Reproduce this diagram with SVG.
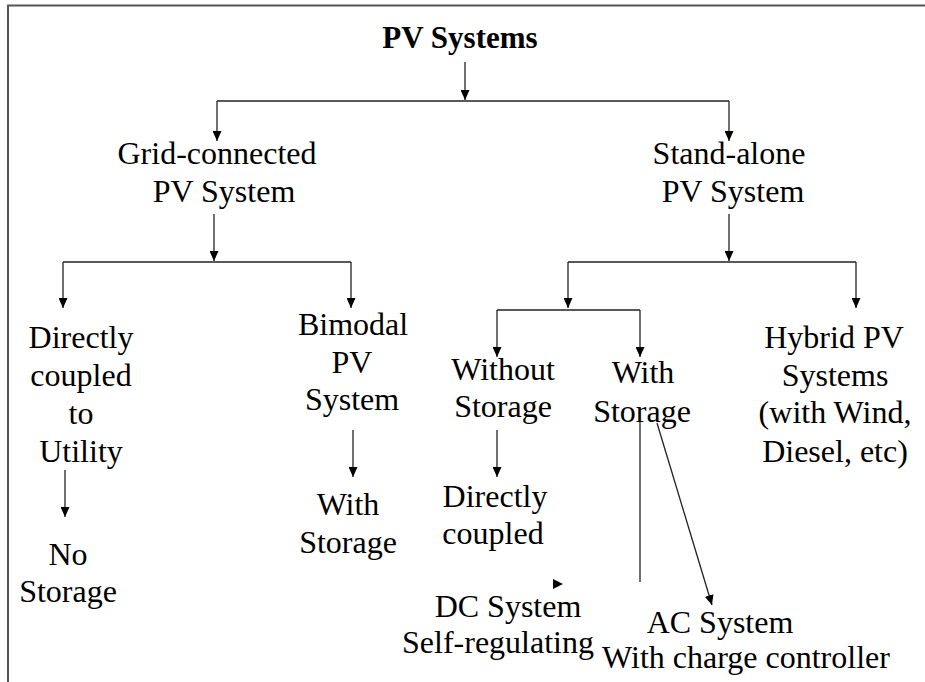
<svg xmlns="http://www.w3.org/2000/svg" width="925" height="682" viewBox="0 0 925 682">
<style>
text{font-family:'Liberation Serif','Times New Roman',serif;font-size:32px;fill:#000;text-anchor:middle}
.title{font-weight:bold;font-size:31px}
.c{stroke:#222;stroke-width:1.3;fill:none}
.a{marker-end:url(#ah)}
</style>
<defs>
<marker id="ah" markerUnits="userSpaceOnUse" markerWidth="10" markerHeight="9" refX="10" refY="4.5" orient="auto">
<path d="M0,0 L10,4.5 L0,9 z" fill="#000"/>
</marker>
</defs>
<rect width="925" height="682" fill="#fff"/>
<g id="frame"><path d="M8,682 V5.5 H925" stroke="#555" stroke-width="2" fill="none"/></g>
<g id="connectors">
<path class="c a" d="M465,62 V100"/>
<path class="c" d="M217,101 H729"/>
<path class="c a" d="M217,101 V141"/>
<path class="c a" d="M729,101 V141"/>
<path class="c a" d="M214,214 V261"/>
<path class="c" d="M63,262 H351"/>
<path class="c a" d="M63,262 V308"/>
<path class="c a" d="M351,262 V308"/>
<path class="c a" d="M729,214 V261"/>
<path class="c" d="M568,262 H856"/>
<path class="c a" d="M568,262 V308"/>
<path class="c a" d="M856,262 V308"/>
<path class="c" d="M497,310 H640"/>
<path class="c a" d="M497,310 V357"/>
<path class="c a" d="M640,310 V357"/>
<path class="c a" d="M65,470 V517"/>
<path class="c a" d="M353,430 V477"/>
<path class="c a" d="M497,430 V477"/>
<path class="c" d="M640,422 V582"/>
<path class="c a" d="M657,423 L712,605"/>
<polygon points="553,579 563,584 553,589" fill="#000"/>
</g>
<g id="pv-systems"><text class="title" x="460" y="48">PV Systems</text></g>
<g id="grid-connected"><text x="217" y="164">Grid-connected</text><text x="224" y="202">PV System</text></g>
<g id="stand-alone"><text x="729" y="164">Stand-alone</text><text x="733" y="202">PV System</text></g>
<g id="directly-coupled-utility"><text x="81" y="348">Directly</text><text x="81" y="386">coupled</text><text x="81" y="424">to</text><text x="81" y="462">Utility</text></g>
<g id="no-storage"><text x="68" y="565">No</text><text x="68" y="602">Storage</text></g>
<g id="bimodal"><text x="353" y="335">Bimodal</text><text x="352" y="373">PV</text><text x="352" y="410">System</text></g>
<g id="bimodal-with-storage"><text x="348" y="515">With</text><text x="348" y="553">Storage</text></g>
<g id="without-storage"><text x="503" y="380">Without</text><text x="503" y="417">Storage</text></g>
<g id="with-storage"><text x="643" y="383">With</text><text x="642" y="422">Storage</text></g>
<g id="directly-coupled"><text x="495" y="507">Directly</text><text x="493" y="544">coupled</text></g>
<g id="dc-system"><text x="508" y="617">DC System</text><text x="498" y="653">Self-regulating</text></g>
<g id="ac-system"><text x="720" y="633">AC System</text><text x="746" y="668">With charge controller</text></g>
<g id="hybrid"><text x="834" y="348">Hybrid PV</text><text x="835" y="386">Systems</text><text x="835" y="423">(with Wind,</text><text x="835" y="462">Diesel, etc)</text></g>
</svg>
